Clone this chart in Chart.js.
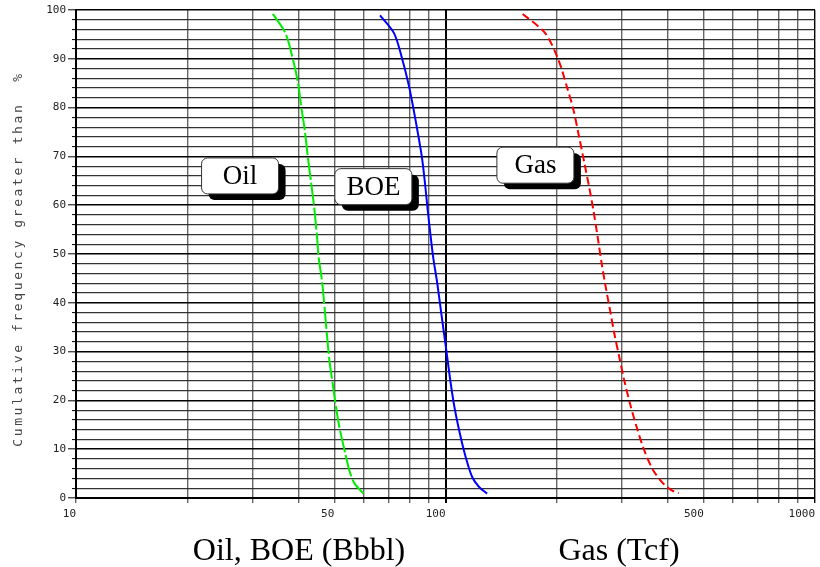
<!DOCTYPE html>
<html>
<head>
<meta charset="utf-8">
<script src="https://cdn.jsdelivr.net/npm/chart.js@4.4.1/dist/chart.umd.min.js"></script>
<style>
  html, body { margin: 0; padding: 0; background: #fff; }
</style>
</head>
<body>
<canvas id="chart" width="820" height="567"></canvas>
<script>
// Oil (Bbbl) - cumulative frequency
const oilX = [34.1, 36.9, 38.7, 39.9, 40.7, 41.6, 42.4, 43.3, 44.2, 44.9, 45.4, 46.4, 47.3, 48.5, 49.5, 50.3, 51.6, 53.3, 54.9, 56.7, 60.0];
const oilY = [99.2, 95.2, 89.7, 85.0, 80.2, 75.4, 69.9, 64.5, 59.0, 53.5, 49.1, 44.0, 37.1, 28.2, 23.5, 19.7, 14.6, 9.8, 5.7, 3.0, 0.9];

// BOE (Bbbl)
const boeX = [66.5, 72.6, 76.5, 79.7, 81.7, 83.9, 86.3, 88.0, 89.5, 91.2, 92.7, 95.0, 97.7, 100.5, 103.3, 106.1, 109.9, 113.4, 118.1, 123.1, 129.6];
const boeY = [98.9, 95.2, 89.7, 84.3, 80.2, 75.4, 69.9, 64.5, 59.0, 53.5, 49.1, 44.0, 37.1, 30.3, 23.5, 18.0, 12.5, 8.4, 4.3, 2.3, 0.9];

// Gas (Tcf)
const gasX = [161.8, 186.3, 202.3, 213.0, 222.0, 229.9, 237.7, 244.7, 251.3, 258.1, 264.6, 271.3, 278.8, 286.3, 295.3, 304.7, 315.6, 328.9, 344.9, 364.8, 388.1, 408.6, 427.9];
const gasY = [99.2, 95.2, 89.7, 84.3, 79.5, 74.0, 68.6, 63.8, 59.0, 53.5, 48.1, 43.3, 38.5, 33.7, 28.9, 24.1, 19.4, 14.6, 9.8, 5.7, 3.0, 1.6, 1.0];

// axis ticks
const xTicks = [10, 20, 30, 40, 50, 60, 70, 80, 90, 100, 200, 300, 400, 500, 600, 700, 800, 900, 1000];
const xLabels = [10, 50, 100, 500, 1000];

// boxed labels on the plot
const boxLabels = ['Oil', 'BOE', 'Gas'];
const boxX = [27.8, 63.8, 175.1];
const boxY = [66.0, 63.8, 68.2];

const yTitle = 'Cumulative frequency greater than  %';
const bottomTitles = ['Oil, BOE (Bbbl)', 'Gas (Tcf)'];

function toPoints(xs, ys) {
    return xs.map((v, i) => ({ x: v, y: ys[i] }));
}

const textPlugin = {
    id: 'textPlugin',
    afterDatasetsDraw(chart) {
        const ctx = chart.ctx;
        const x = chart.scales.x;
        const y = chart.scales.y;
        const w = 77, h = 36;
        boxLabels.forEach((label, i) => {
            const cx = x.getPixelForValue(boxX[i]);
            const cy = y.getPixelForValue(boxY[i]);
            ctx.save();
            // shadow
            ctx.fillStyle = '#000';
            ctx.beginPath();
            ctx.roundRect(cx - w / 2 + 7, cy - h / 2 + 6, w, h, 6);
            ctx.fill();
            // box
            ctx.fillStyle = '#fff';
            ctx.strokeStyle = '#333';
            ctx.lineWidth = 1;
            ctx.beginPath();
            ctx.roundRect(cx - w / 2, cy - h / 2, w, h, 6);
            ctx.fill();
            ctx.stroke();
            ctx.fillStyle = '#000';
            ctx.font = '27px "Liberation Serif", serif';
            ctx.textAlign = 'center';
            ctx.textBaseline = 'middle';
            ctx.fillText(label, cx, cy + 1);
            ctx.restore();
        });
    },
    afterDraw(chart) {
        const ctx = chart.ctx;
        const area = chart.chartArea;
        ctx.save();
        // y axis title
        ctx.translate(19, (area.top + area.bottom) / 2 + 5);
        ctx.rotate(-Math.PI / 2);
        ctx.font = '13px "DejaVu Sans Mono", monospace';
        ctx.letterSpacing = '2.6px';
        ctx.fillStyle = '#444';
        ctx.textAlign = 'center';
        ctx.textBaseline = 'middle';
        ctx.fillText(yTitle, 0, 0);
        ctx.restore();

        // x axis titles
        ctx.save();
        ctx.font = '32px "Liberation Serif", serif';
        ctx.fillStyle = '#000';
        ctx.textAlign = 'center';
        ctx.textBaseline = 'alphabetic';
        ctx.fillText(bottomTitles[0], 299, 560);
        ctx.fillText(bottomTitles[1], 619, 560);
        ctx.restore();
    }
};

const ctx = document.getElementById('chart').getContext('2d');
new Chart(ctx, {
    type: 'line',
    data: {
        datasets: [
            {
                label: 'Oil',
                data: toPoints(oilX, oilY),
                borderColor: '#00ee00',
                borderWidth: 2,
                borderDash: [22, 3],
                pointRadius: 0,
                tension: 0.3
            },
            {
                label: 'BOE',
                data: toPoints(boeX, boeY),
                borderColor: '#0000ff',
                borderWidth: 2,
                pointRadius: 0,
                tension: 0.3
            },
            {
                label: 'Gas',
                data: toPoints(gasX, gasY),
                borderColor: '#ff0000',
                borderWidth: 2,
                borderDash: [8, 4],
                pointRadius: 0,
                tension: 0.3
            }
        ]
    },
    options: {
        responsive: false,
        animation: false,
        layout: { padding: { left: 0, right: 2, top: 10, bottom: 0 } },
        plugins: {
            legend: { display: false },
            tooltip: { enabled: false }
        },
        scales: {
            x: {
                type: 'logarithmic',
                min: 10,
                max: 1000,
                afterBuildTicks: (scale) => {
                    scale.ticks = xTicks.map(v => ({ value: v }));
                },
                afterFit: (scale) => { scale.height = 69; },
                ticks: {
                    autoSkip: false,
                    maxRotation: 0,
                    align: 'end',
                    padding: 5,
                    color: '#222',
                    font: { family: '"DejaVu Sans Mono", monospace', size: 11 },
                    callback: (v) => xLabels.includes(v) ? String(v) : ''
                },
                grid: {
                    color: (c) => (c.tick && (c.tick.value === 100 || c.tick.value === 1000)) ? '#000' : '#666',
                    lineWidth: (c) => (c.tick && c.tick.value === 100) ? 2 : 1.4,
                    tickLength: 5
                },
                border: { color: '#000', width: 2 }
            },
            y: {
                min: 0,
                max: 100,
                afterFit: (scale) => { scale.width = 76; },
                ticks: {
                    stepSize: 2,
                    autoSkip: false,
                    padding: 2,
                    color: '#222',
                    font: { family: '"DejaVu Sans Mono", monospace', size: 11 },
                    callback: (v) => v % 10 === 0 ? String(v) : ''
                },
                grid: {
                    color: (c) => (c.tick && c.tick.value % 10 === 0) ? '#000' : '#333',
                    lineWidth: (c) => (c.tick && c.tick.value % 10 === 0) ? 1.6 : 1.2,
                    tickColor: '#000',
                    tickWidth: 1,
                    tickLength: 8,
                    tickBorderDash: (c) => (c.tick && c.tick.value % 10 === 0) ? [] : [0, 4, 3, 10]
                },
                border: { color: '#000', width: 2 }
            }
        }
    },
    plugins: [textPlugin]
});
</script>
</body>
</html>
